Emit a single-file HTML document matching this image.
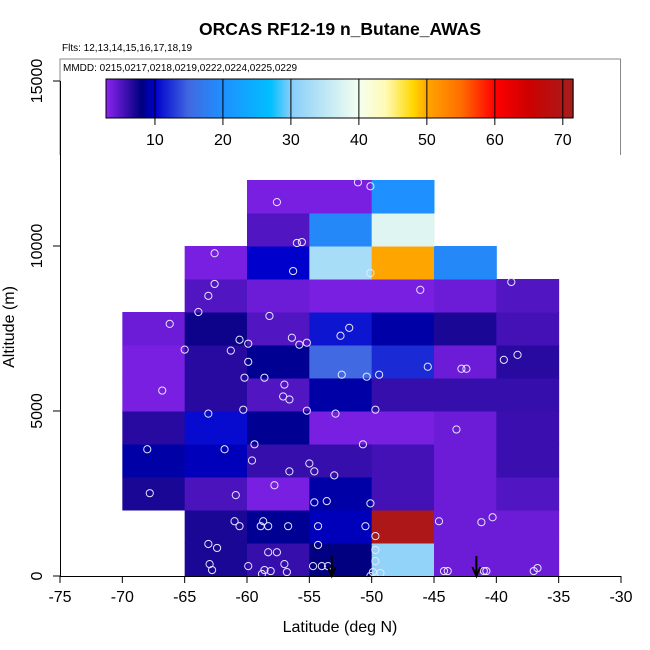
<!DOCTYPE html>
<html><head><meta charset="utf-8"><style>
body{margin:0;background:#fff;}
svg{display:block;font-family:"Liberation Sans",sans-serif;}
</style></head><body>
<svg id="chart" width="650" height="650" xmlns="http://www.w3.org/2000/svg">
<text x="340" y="35" text-anchor="middle" font-size="17.5" font-weight="bold">ORCAS RF12-19 n_Butane_AWAS</text>
<text x="62" y="51" font-size="10">Flts: 12,13,14,15,16,17,18,19</text>
<path d="M60 155 V59 H620.5 V155" fill="none" stroke="#888" stroke-width="1"/>
<text x="63" y="71" font-size="10">MMDD: 0215,0217,0218,0219,0222,0224,0225,0229</text>
<g id="cells"></g>
<g id="pts"></g>
<g id="cbar"></g>
<g id="axes"></g>
<text x="340" y="632" text-anchor="middle" font-size="16">Latitude (deg N)</text>
<text transform="translate(14,327) rotate(-90)" text-anchor="middle" font-size="16">Altitude (m)</text>
</svg>
<script>
const latEdges=[-70,-65,-60,-55,-50,-45,-40,-35];
const altStep=1000;
// rows from bottom (0-1000 m) upward; null = no data
const cellValues=[
[null,7,6,8,31,4,4],
[null,7,8.5,9.5,70,4,4],
[7,5.2,3.5,9,5.5,4,5],
[9,9.5,6,6,5.5,4,5.8],
[6.5,10.5,8.5,3.5,3.5,4,5.8],
[3.5,6.5,5,9,6,6,6],
[3.5,6.5,8.5,15,12,4,6.5],
[4,7.5,5,11,9,7,5.5],
[null,5,4,3.5,3.5,4,5],
[null,3.5,10,33,50,19,null],
[null,null,5,19,38,null,null],
[null,null,3.5,3.5,20,null,null]
];
const ptLat=[-51.1,-50.1,-57.6,-56.0,-55.6,-56.3,-62.6,-50.1,-46.1,-38.8,-62.6,-63.1,-63.9,-66.2,-58.2,-56.4,-51.8,-52.5,-60.6,-65.0,-61.3,-59.9,-55.2,-55.8,-59.9,-60.2,-58.6,-57.0,-57.1,-56.6,-52.4,-50.4,-49.4,-45.5,-42.8,-42.4,-39.4,-38.3,-66.8,-63.1,-60.3,-55.2,-52.9,-49.7,-43.2,-59.4,-68.0,-61.8,-50.7,-59.6,-55.0,-56.6,-54.6,-57.8,-53.0,-54.6,-53.6,-50.1,-67.8,-60.9,-61.0,-60.6,-58.7,-58.3,-56.7,-54.3,-50.5,-49.7,-44.6,-41.2,-40.3,-63.1,-62.4,-58.3,-57.6,-54.3,-49.7,-49.7,-63.0,-62.8,-59.9,-58.6,-58.1,-57.0,-56.8,-54.0,-53.5,-49.9,-49.3,-44.2,-43.9,-41.0,-40.8,-37.0,-36.7,-58.8,-50.1,-54.7,-58.9];
const ptAlt=[11930,11810,11330,10090,10120,9240,9780,9180,8670,8910,8850,8490,8000,7640,7880,7220,7520,7280,7160,6860,6830,7040,7070,7010,6490,6010,6010,5800,5440,5350,6100,6040,6100,6340,6280,6280,6550,6700,5620,4920,5040,5010,4920,5040,4440,3990,3840,3840,3990,3500,3410,3170,3170,2750,3050,2230,2270,2200,2510,2450,1660,1510,1660,1510,1510,1510,1510,1210,1660,1630,1780,970,850,720,720,940,790,450,360,180,300,180,150,360,120,300,300,120,90,150,150,150,150,150,240,60,0,300,1510];
const arrowLat=[-53.2,-41.6];
const xTicks=[-75,-70,-65,-60,-55,-50,-45,-40,-35,-30];
const yTicks=[0,5000,10000,15000];
const cbTicks=[10,20,30,40,50,60,70];
const cbMin=2.8, cbMax=71.5;
const cStops=[[2.8,[140,36,240]],[8,[0,0,128]],[10,[0,0,205]],[15,[65,105,225]],[20,[30,144,255]],[27,[0,191,255]],[30,[135,206,250]],[40,[245,255,240]],[44,[255,250,180]],[48,[255,215,0]],[50,[255,165,0]],[55,[255,110,0]],[60,[255,0,0]],[65,[205,0,0]],[71.5,[165,30,30]]];
const X=v=>60+(v+75)*(561/45);
const Y=v=>576-v*(495/15000);
const CB=v=>106+(v-cbMin)*(467/(cbMax-cbMin));
function col(v){for(let i=0;i<cStops.length-1;i++){const a=cStops[i],b=cStops[i+1];if(v<=b[0]){const t=Math.max(0,(v-a[0])/(b[0]-a[0]));return 'rgb('+a[1].map((c,k)=>Math.round(c+(b[1][k]-c)*t)).join(',')+')';}}const l=cStops[cStops.length-1][1];return 'rgb('+l.join(',')+')';}
const NS='http://www.w3.org/2000/svg';
function mk(t,a,p){const e=document.createElementNS(NS,t);for(const k in a)e.setAttribute(k,a[k]);p.appendChild(e);return e;}
const cells=document.getElementById('cells');
cellValues.forEach((row,r)=>row.forEach((v,c)=>{if(v===null)return;
const x0=X(latEdges[c]),x1=X(latEdges[c+1]),y0=Y((r+1)*altStep),y1=Y(r*altStep);
const e=mk('rect',{x:x0,y:y0,width:x1-x0+0.5,height:y1-y0+0.5,fill:col(v)},cells);

}));
const pts=document.getElementById('pts');
ptLat.forEach((la,i)=>{const e=mk('circle',{cx:X(la),cy:Y(ptAlt[i]),r:3.6,fill:'none',stroke:'#e6e6ff','stroke-width':1},pts);

});
const axes=document.getElementById('axes');
arrowLat.forEach(la=>{const x=X(la);const g=mk('g',{},axes);


mk('line',{x1:x,y1:556,x2:x,y2:575,stroke:'#000','stroke-width':2},g);
mk('path',{d:`M${x-4} 567 L${x} 576 L${x+4} 567`,fill:'none',stroke:'#000','stroke-width':2},g);});
mk('line',{x1:X(-75),y1:576.5,x2:X(-30),y2:576.5,stroke:'#000'},axes);
xTicks.forEach(t=>{const x=X(t);mk('line',{x1:x,y1:576,x2:x,y2:583,stroke:'#000'},axes);
const e=mk('text',{x:x,y:602,'text-anchor':'middle','font-size':16},axes);e.textContent=t;

});
mk('line',{x1:60.5,y1:Y(0),x2:60.5,y2:Y(15000),stroke:'#000'},axes);
yTicks.forEach(t=>{const y=Y(t);mk('line',{x1:53,y1:y,x2:60,y2:y,stroke:'#000'},axes);
const e=mk('text',{'text-anchor':'middle','font-size':16,transform:`translate(42,${y}) rotate(-90)`},axes);e.textContent=t;

});
const cb=document.getElementById('cbar');
for(let v=cbMin;v<cbMax;v+=0.25){mk('rect',{x:CB(v),y:79,width:CB(v+0.25)-CB(v)+0.4,height:39,fill:col(v+0.125)},cb);}
mk('rect',{x:106,y:79,width:467,height:39,fill:'none',stroke:'#000','stroke-width':1},cb);
cbTicks.forEach(t=>{const x=CB(t);mk('line',{x1:x,y1:79,x2:x,y2:125,stroke:'#000','stroke-width':1},cb);
const e=mk('text',{x:x,y:145,'text-anchor':'middle','font-size':16},cb);e.textContent=t;

});
</script>
</body></html>
